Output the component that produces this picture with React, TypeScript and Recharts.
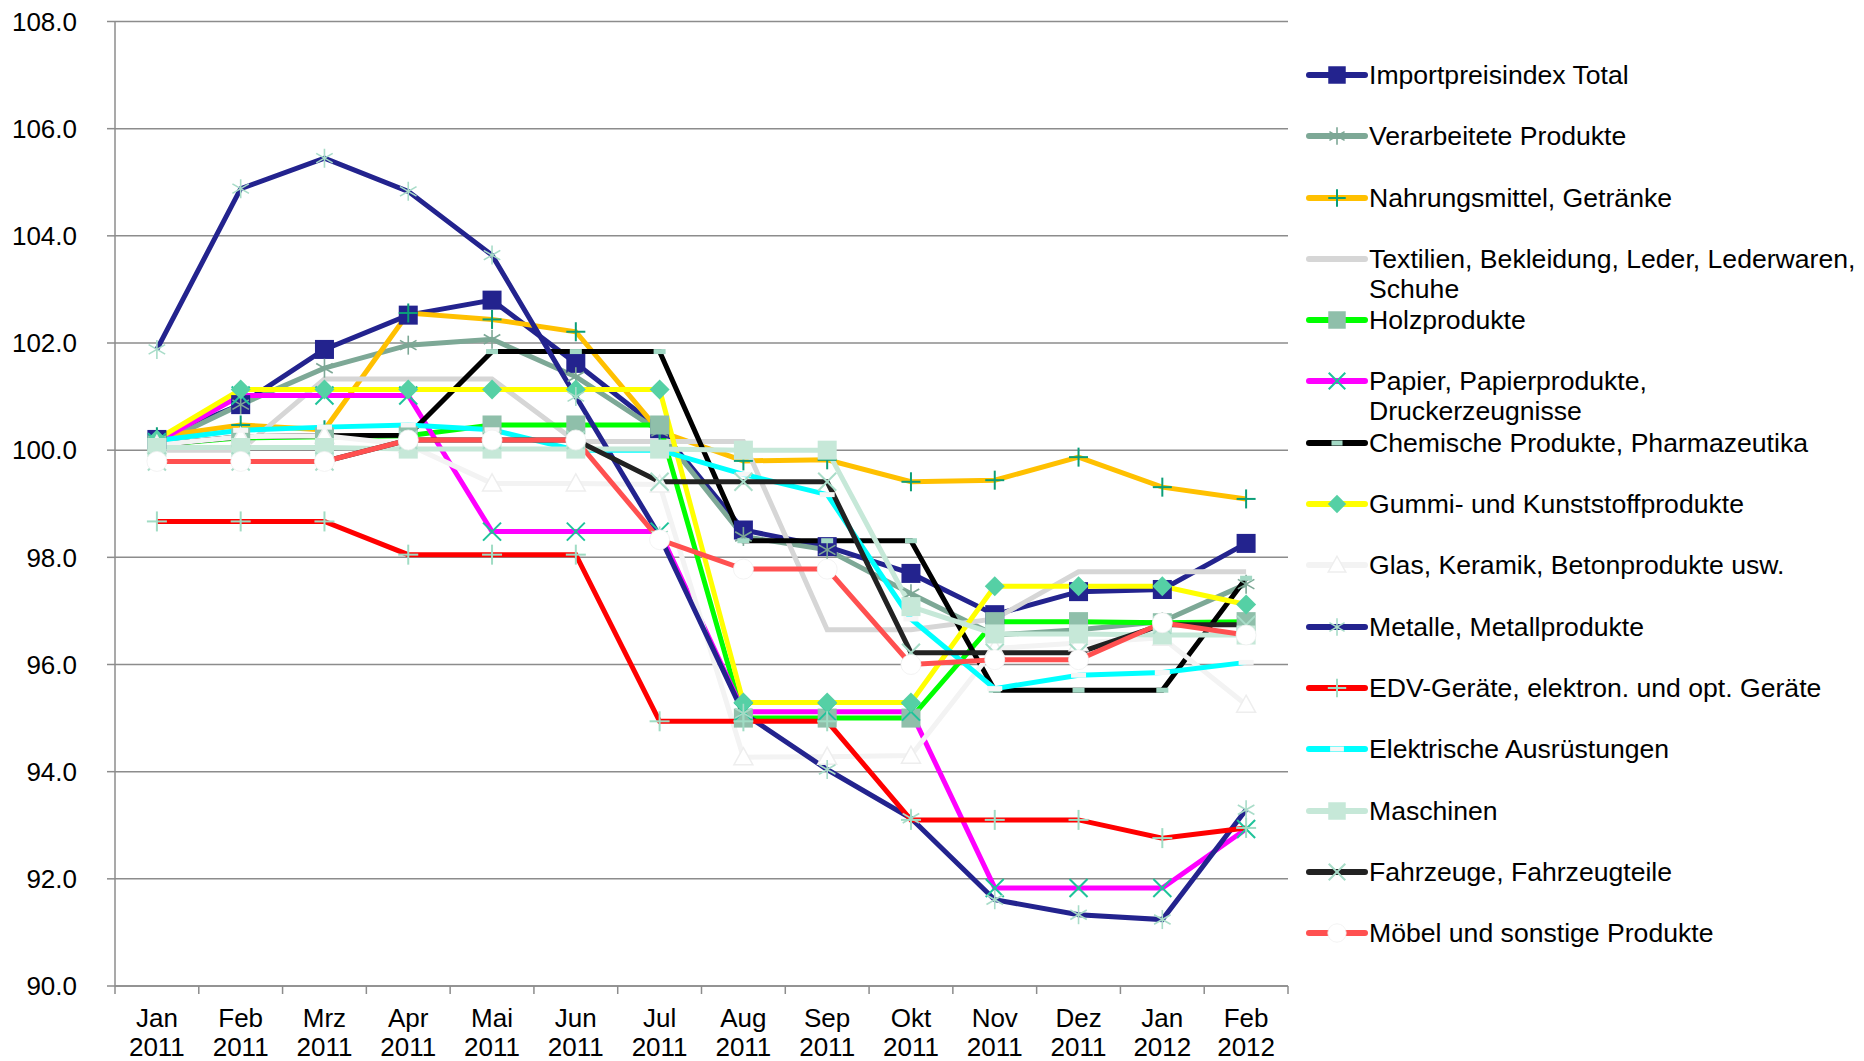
import React from 'react';
import { LineChart, Line, XAxis, YAxis, CartesianGrid, Legend } from 'recharts';

const months = ['Jan', 'Feb', 'Mrz', 'Apr', 'Mai', 'Jun', 'Jul', 'Aug', 'Sep', 'Okt', 'Nov', 'Dez', 'Jan', 'Feb'];
const years = ['2011', '2011', '2011', '2011', '2011', '2011', '2011', '2011', '2011', '2011', '2011', '2011', '2012', '2012'];
const yTicks = [90, 92, 94, 96, 98, 100, 102, 104, 106, 108];

const importTotal = [100.2, 100.85, 101.88, 102.52, 102.8, 101.62, 100.4, 98.51, 98.2, 97.7, 96.93, 97.36, 97.4, 98.26];
const verarbeitet = [100.1, 100.85, 101.53, 101.96, 102.07, 101.37, 100.35, 98.39, 98.14, 97.32, 96.55, 96.65, 96.8, 97.5];
const nahrung = [100.25, 100.47, 100.38, 102.56, 102.44, 102.21, 100.35, 99.8, 99.82, 99.41, 99.44, 99.87, 99.31, 99.09];
const textil = [100.0, 100.0, 101.33, 101.33, 101.33, 100.16, 100.16, 100.16, 96.65, 96.65, 96.85, 97.73, 97.73, 97.73];
const holz = [100.1, 100.23, 100.25, 100.27, 100.47, 100.47, 100.47, 95.0, 95.0, 95.0, 96.8, 96.8, 96.78, 96.8];
const papier = [100.15, 101.02, 101.02, 101.02, 98.48, 98.48, 98.48, 95.12, 95.12, 95.12, 91.83, 91.83, 91.83, 92.93];
const chemie = [100.1, 100.25, 100.27, 100.28, 101.84, 101.84, 101.84, 98.31, 98.31, 98.31, 95.52, 95.52, 95.52, 97.61];
const gummi = [100.2, 101.13, 101.13, 101.13, 101.13, 101.13, 101.13, 95.29, 95.29, 95.29, 97.46, 97.46, 97.46, 97.12];
const glas = [100.1, 100.25, 100.27, 100.1, 99.38, 99.38, 99.36, 94.27, 94.28, 94.3, 96.3, 96.4, 96.5, 95.25];
const metalle = [101.88, 104.88, 105.45, 104.83, 103.64, 101.0, 98.4, 95.09, 94.04, 93.13, 91.61, 91.33, 91.24, 93.29];
const edv = [98.67, 98.67, 98.67, 98.05, 98.05, 98.05, 94.94, 94.94, 94.94, 93.1, 93.1, 93.1, 92.76, 92.95];
const elektro = [100.18, 100.37, 100.43, 100.47, 100.38, 100.0, 100.0, 99.55, 99.17, 96.85, 95.55, 95.8, 95.85, 96.04];
const maschinen = [100.05, 100.05, 100.05, 100.02, 100.02, 100.02, 100.02, 100.0, 100.0, 97.08, 96.57, 96.57, 96.55, 96.55];
const fahrzeuge = [99.79, 99.79, 99.79, 100.19, 100.19, 100.19, 99.41, 99.41, 99.41, 96.22, 96.22, 96.22, 96.74, 96.74];
const moebel = [99.79, 99.79, 99.79, 100.19, 100.19, 100.19, 98.33, 97.78, 97.78, 96.0, 96.09, 96.09, 96.78, 96.55];

type Marker = 'square' | 'asterisk' | 'plus' | 'x' | 'dash' | 'diamond' | 'triangle' | 'circle' | 'none';

interface SeriesDef {
  key: string;
  name: string;
  values: number[];
  color: string;
  marker: Marker;
  mColor: string;
  mSize: number;
}

const series: SeriesDef[] = [
  { key: 'total', name: 'Importpreisindex Total', values: importTotal, color: '#23238E', marker: 'square', mColor: '#23238E', mSize: 19 },
  { key: 'verarb', name: 'Verarbeitete Produkte', values: verarbeitet, color: '#7DA896', marker: 'asterisk', mColor: '#7DA896', mSize: 19 },
  { key: 'nahrung', name: 'Nahrungsmittel, Getränke', values: nahrung, color: '#FFC000', marker: 'plus', mColor: '#0B9E78', mSize: 19 },
  { key: 'textil', name: 'Textilien, Bekleidung, Leder, Lederwaren,\nSchuhe', values: textil, color: '#D6D6D6', marker: 'none', mColor: '#D6D6D6', mSize: 0 },
  { key: 'holz', name: 'Holzprodukte', values: holz, color: '#00FF00', marker: 'square', mColor: '#8FBFAA', mSize: 19 },
  { key: 'papier', name: 'Papier, Papierprodukte,\nDruckerzeugnisse', values: papier, color: '#FF00FF', marker: 'x', mColor: '#1EC39A', mSize: 18 },
  { key: 'chemie', name: 'Chemische Produkte, Pharmazeutika', values: chemie, color: '#000000', marker: 'dash', mColor: '#A2D8C4', mSize: 12 },
  { key: 'gummi', name: 'Gummi- und Kunststoffprodukte', values: gummi, color: '#FFFF00', marker: 'diamond', mColor: '#55D0A5', mSize: 20 },
  { key: 'glas', name: 'Glas, Keramik, Betonprodukte usw.', values: glas, color: '#F3F3F3', marker: 'triangle', mColor: '#FFFFFF', mSize: 19 },
  { key: 'metalle', name: 'Metalle, Metallprodukte', values: metalle, color: '#23238E', marker: 'asterisk', mColor: '#A8DCC8', mSize: 19 },
  { key: 'edv', name: 'EDV-Geräte, elektron. und opt. Geräte', values: edv, color: '#FF0000', marker: 'plus', mColor: '#A0DCC4', mSize: 20 },
  { key: 'elektro', name: 'Elektrische Ausrüstungen', values: elektro, color: '#00FFFF', marker: 'dash', mColor: '#F6F6F6', mSize: 15 },
  { key: 'maschinen', name: 'Maschinen', values: maschinen, color: '#C6E8D8', marker: 'square', mColor: '#C6E8D8', mSize: 19 },
  { key: 'fahrzeuge', name: 'Fahrzeuge, Fahrzeugteile', values: fahrzeuge, color: '#222222', marker: 'x', mColor: '#A8DCC8', mSize: 18 },
  { key: 'moebel', name: 'Möbel und sonstige Produkte', values: moebel, color: '#FF5050', marker: 'circle', mColor: '#FFFFFF', mSize: 20 },
];

const data = months.map((m, i) => {
  const row: Record<string, string | number> = { cat: `${m} ${years[i]}` };
  series.forEach((s) => {
    row[s.key] = s.values[i];
  });
  return row;
});

const FONT = "'Liberation Sans', Arial, sans-serif";
const W = 1864;
const H = 1061;
const PLOT_LEFT = 115;
const PLOT_RIGHT = 1288;
const PLOT_TOP = 21.5;
const X_AXIS_H = 75;
const BAND = (PLOT_RIGHT - PLOT_LEFT) / months.length;
const GRID = '#8C8C8C';

function renderMarker(m: Marker, color: string, size: number, cx: number, cy: number, key: string) {
  const h = size / 2;
  switch (m) {
    case 'square':
      return <rect key={key} x={cx - h} y={cy - h} width={size} height={size} fill={color} />;
    case 'asterisk': {
      const d = h * 0.87;
      const e = h * 0.5;
      return (
        <g key={key} stroke={color} strokeWidth={1.6}>
          <line x1={cx} y1={cy - h} x2={cx} y2={cy + h} />
          <line x1={cx - d} y1={cy - e} x2={cx + d} y2={cy + e} />
          <line x1={cx - d} y1={cy + e} x2={cx + d} y2={cy - e} />
        </g>
      );
    }
    case 'plus':
      return (
        <g key={key} stroke={color} strokeWidth={2}>
          <line x1={cx} y1={cy - h} x2={cx} y2={cy + h} />
          <line x1={cx - h} y1={cy} x2={cx + h} y2={cy} />
        </g>
      );
    case 'x':
      return (
        <g key={key} stroke={color} strokeWidth={2}>
          <line x1={cx - h} y1={cy - h} x2={cx + h} y2={cy + h} />
          <line x1={cx - h} y1={cy + h} x2={cx + h} y2={cy - h} />
        </g>
      );
    case 'dash':
      return <rect key={key} x={cx - h} y={cy - 2.5} width={size} height={5} fill={color} />;
    case 'diamond':
      return <polygon key={key} points={`${cx},${cy - h} ${cx + h},${cy} ${cx},${cy + h} ${cx - h},${cy}`} fill={color} />;
    case 'triangle':
      return (
        <polygon
          key={key}
          points={`${cx},${cy - h} ${cx + h},${cy + h * 0.8} ${cx - h},${cy + h * 0.8}`}
          fill={color}
          stroke="#EEEEEE"
          strokeWidth={1.5}
        />
      );
    case 'circle':
      return <circle key={key} cx={cx} cy={cy} r={h} fill={color} stroke="#F0F0F0" strokeWidth={0.8} />;
    default:
      return <g key={key} />;
  }
}

const makeDot = (s: SeriesDef) => (props: any) => {
  const { cx, cy, index } = props;
  const key = `${s.key}-dot-${index}`;
  if (cx == null || cy == null) return <g key={key} />;
  return renderMarker(s.marker, s.mColor, s.mSize, cx, cy, key);
};

const XTick = (props: any) => {
  const { x, y, payload } = props;
  const idx = props.index ?? payload.index ?? 0;
  const [m, yr] = String(payload.value).split(' ');
  const axisY = y - 8;
  const half = BAND / 2;
  return (
    <g>
      <line x1={x - half} x2={x - half} y1={axisY} y2={axisY + 8} stroke={GRID} strokeWidth={1.5} />
      {idx === months.length - 1 && (
        <line x1={x + half} x2={x + half} y1={axisY} y2={axisY + 8} stroke={GRID} strokeWidth={1.5} />
      )}
      <text x={x} y={axisY + 41} textAnchor="middle" fontSize={26} fill="#000" fontFamily={FONT}>
        <tspan x={x} dy={0}>{m}</tspan>
        <tspan x={x} dy={29}>{yr}</tspan>
      </text>
    </g>
  );
};

const LegendBox = () => (
  <div style={{ fontFamily: FONT, fontSize: 26.6, color: '#000' }}>
    {series.map((s) => (
      <div key={s.key} style={{ height: 61.3, display: 'flex', alignItems: 'flex-start' }}>
        <svg width={60} height={30} style={{ flex: 'none', overflow: 'visible' }}>
          <line x1={4} x2={60} y1={15} y2={15} stroke={s.color} strokeWidth={6} strokeLinecap="round" />
          {renderMarker(s.marker, s.mColor, s.mSize * 0.92, 32, 15, `${s.key}-leg`)}
        </svg>
        <div style={{ marginLeft: 4, lineHeight: '30px', whiteSpace: 'pre' }}>{s.name}</div>
      </div>
    ))}
  </div>
);

export default function App() {
  return (
    <div style={{ position: 'absolute', left: 0, top: 0, width: W, height: H, background: '#fff', fontFamily: FONT }}>
      <LineChart
        width={W}
        height={H}
        data={data}
        margin={{ top: PLOT_TOP, right: W - PLOT_RIGHT, bottom: 0, left: 0 }}
      >
        <CartesianGrid vertical={false} stroke={GRID} strokeWidth={1.5} />
        <XAxis
          dataKey="cat"
          scale="band"
          height={X_AXIS_H}
          interval={0}
          tickLine={false}
          tickSize={8}
          tickMargin={0}
          axisLine={{ stroke: GRID, strokeWidth: 1.5 }}
          tick={<XTick />}
        />
        <YAxis
          width={PLOT_LEFT}
          domain={[90, 108]}
          ticks={yTicks}
          interval={0}
          allowDataOverflow
          tickSize={8}
          tickMargin={30}
          tickLine={{ stroke: GRID, strokeWidth: 1.5 }}
          axisLine={{ stroke: GRID, strokeWidth: 1.5 }}
          tickFormatter={(v: number) => v.toFixed(1)}
          tick={{ fontSize: 26, fill: '#000', fontFamily: FONT }}
        />
        <Legend
          layout="vertical"
          align="center"
          verticalAlign="middle"
          wrapperStyle={{ left: 1305, top: 60, width: 559 }}
          content={() => <LegendBox />}
        />
        {series.map((s) => (
          <Line
            key={s.key}
            dataKey={s.key}
            name={s.name}
            type="linear"
            stroke={s.color}
            strokeWidth={5}
            dot={makeDot(s)}
            activeDot={false}
            isAnimationActive={false}
          />
        ))}
      </LineChart>
    </div>
  );
}
